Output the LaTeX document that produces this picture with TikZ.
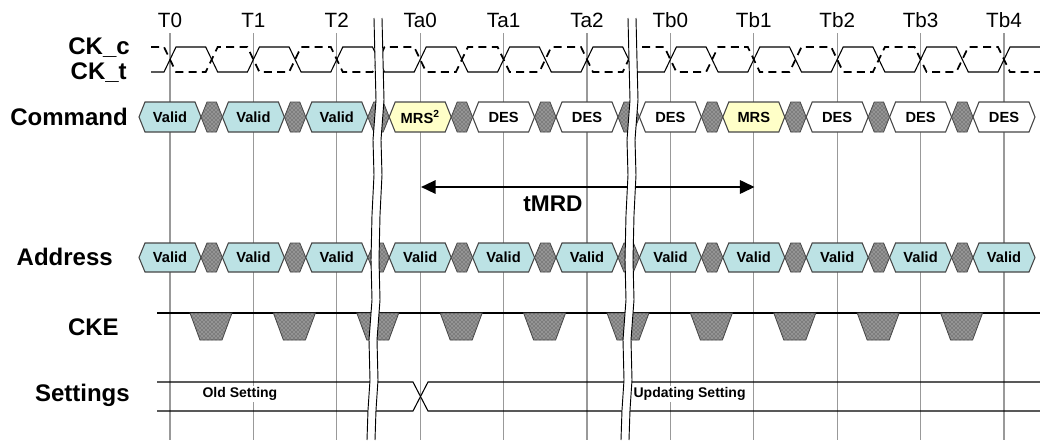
\documentclass[tikz,border=0pt]{standalone}
\usepackage{fontspec}
\setmainfont{Liberation Sans}
\usetikzlibrary{patterns,arrows.meta,calc}
\definecolor{validcol}{RGB}{188, 226, 228}
\definecolor{mrscol}{RGB}{255, 255, 200}
\definecolor{edgecol}{RGB}{70, 70, 70}

\begin{document}
\begin{tikzpicture}[
    x=0.75pt, y=-0.75pt,
    rowlabel/.style={font=\fontsize{18}{20}\selectfont\bfseries, anchor=east, inner sep=0pt},
    ticklabel/.style={font=\fontsize{15.5}{17}\selectfont, inner sep=0pt},
    boxtext/.style={font=\fontsize{11}{12}\selectfont\bfseries, inner sep=0pt},
    settext/.style={font=\fontsize{10.5}{12}\selectfont\bfseries, anchor=west, fill=white, inner sep=1pt},
    gridline/.style={black!40, line width=0.8pt},
    wire/.style={black, line width=0.8pt},
    clkdash/.style={black, line width=1.3pt, dash pattern=on 6pt off 4pt},
    busbox/.style={draw=edgecol, line width=0.8pt},
    hatchbox/.style={draw=edgecol, line width=0.6pt, preaction={fill=black!42},
        pattern=crosshatch dots, pattern color=black!80},
]
\useasboundingbox (0,0) rectangle (1040,440);

\def\Tzero{170}
\def\per{83.4}
\def\hw{31}
\def\tip{6}

% ===== clock edges and grid =====
\foreach \lbl [count=\i from 0] in {T0,T1,T2,Ta0,Ta1,Ta2,Tb0,Tb1,Tb2,Tb3,Tb4} {
    \pgfmathsetmacro{\x}{\Tzero+\i*\per}
    \draw[gridline] (\x,33) -- (\x,440);
    \node[ticklabel] (t\i) at (\x,20) {\lbl};
}

% ===== row labels =====
\node[rowlabel] (ckc) at (130,48) {CK\_c};
\node[rowlabel] (ckt) at (127,73) {CK\_t};
\node[rowlabel] (cmd) at (128,117) {Command};
\node[rowlabel] (addr) at (113,257) {Address};
\node[rowlabel] (cke) at (119,327) {CKE};
\node[rowlabel] (set) at (130,395) {Settings};

% ===== CK_t (solid) and CK_c (dashed) =====
\draw[wire] (151,72)
    \foreach \k in {0,...,9} {
        -- ({\Tzero+\k*\per-\tip},72) -- ({\Tzero+\k*\per+\tip},47)
        -- ({\Tzero+(\k+0.5)*\per-\tip},47) -- ({\Tzero+(\k+0.5)*\per+\tip},72)
    }
    -- ({\Tzero+10*\per-\tip},72) -- ({\Tzero+10*\per+\tip},47) -- (1040,47);
\draw[clkdash] (151,47)
    \foreach \k in {0,...,9} {
        -- ({\Tzero+\k*\per-\tip},47) -- ({\Tzero+\k*\per+\tip},72)
        -- ({\Tzero+(\k+0.5)*\per-\tip},72) -- ({\Tzero+(\k+0.5)*\per+\tip},47)
    }
    -- ({\Tzero+10*\per-\tip},47) -- ({\Tzero+10*\per+\tip},72) -- (1040,72);

% ===== Command bus =====
\foreach \txt/\col [count=\i from 0] in {Valid/validcol, Valid/validcol, Valid/validcol,
        MRS\textsuperscript{2}/mrscol, DES/white, DES/white, DES/white, MRS/mrscol,
        DES/white, DES/white, DES/white} {
    \pgfmathsetmacro{\x}{\Tzero+\i*\per}
    \draw[busbox, fill=\col] ({\x-\hw},117) -- ({\x-\hw+\tip},102) -- ({\x+\hw-\tip},102)
        -- ({\x+\hw},117) -- ({\x+\hw-\tip},132) -- ({\x-\hw+\tip},132) -- cycle;
    \node[boxtext] (cmd\i) at (\x,117) {\txt};
    % don't care
    \ifnum\i<10
    \draw[hatchbox] ({\x+\hw},117) -- ({\x+\hw+\tip},102) -- ({\x+\per-\hw-\tip},102)
        -- ({\x+\per-\hw},117) -- ({\x+\per-\hw-\tip},132) -- ({\x+\hw+\tip},132) -- cycle;
    \fi
}

% ===== tMRD =====
\coordinate (mrdL) at (421,187);
\coordinate (mrdR) at (754.6,187);
\draw[line width=1.7pt, {Triangle[length=11pt, width=10pt]}-{Triangle[length=11pt, width=10pt]}]
    (mrdL) -- (mrdR);
\node[font=\fontsize{17}{19}\selectfont\bfseries] (mrdlbl) at (553,204) {tMRD};

% ===== Address bus =====
\foreach \i in {0,...,10} {
    \pgfmathsetmacro{\x}{\Tzero+\i*\per}
    \draw[busbox, fill=validcol] ({\x-\hw},257.5) -- ({\x-\hw+\tip},243) -- ({\x+\hw-\tip},243)
        -- ({\x+\hw},257.5) -- ({\x+\hw-\tip},272) -- ({\x-\hw+\tip},272) -- cycle;
    \node[boxtext] (addr\i) at (\x,257.5) {Valid};
    \ifnum\i<10
    \draw[hatchbox] ({\x+\hw},257.5) -- ({\x+\hw+\tip},243) -- ({\x+\per-\hw-\tip},243)
        -- ({\x+\per-\hw},257.5) -- ({\x+\per-\hw-\tip},272) -- ({\x+\hw+\tip},272) -- cycle;
    \fi
}

% ===== CKE =====
\draw[wire] (157,313) -- (1040,313);
\foreach \k in {0,...,9} {
    \pgfmathsetmacro{\c}{\Tzero+\k*\per+41}
    \draw[hatchbox] ({\c-21},313) -- ({\c+21},313) -- ({\c+11},340) -- ({\c-11},340) -- cycle;
}

% ===== Settings =====
\draw[wire] (157,382) -- (413,382) -- (428,411) -- (1040,411);
\draw[wire] (157,411) -- (413,411) -- (428,382) -- (1040,382);
\node[settext] (oldset) at (201,394) {Old Setting};
\node[settext] (newset) at (632,394) {Updating Setting};

% ===== time breaks =====
\foreach \bx in {0,254} {
    \begin{scope}[shift={(\bx,0)}]
    \fill[white] (374,18) -- (375,60) -- (376,100) -- (373,140) -- (374,175) -- (372,215)
        -- (371,260) -- (372,300) -- (369,340) -- (370,380) -- (368,410) -- (367,440)
        -- (375,440) -- (376,410) -- (378,380) -- (377,340) -- (380,300) -- (379,260)
        -- (380,215) -- (382,175) -- (381,140) -- (384,100) -- (383,60) -- (382,18) -- cycle;
    \draw[line width=0.7pt] (374,18) -- (375,60) -- (376,100) -- (373,140) -- (374,175)
        -- (372,215) -- (371,260) -- (372,300) -- (369,340) -- (370,380) -- (368,410) -- (367,440);
    \draw[line width=0.7pt] (382,18) -- (383,60) -- (384,100) -- (381,140) -- (382,175)
        -- (380,215) -- (379,260) -- (380,300) -- (377,340) -- (378,380) -- (376,410) -- (375,440);
    \end{scope}
}

\end{tikzpicture}
\end{document}
